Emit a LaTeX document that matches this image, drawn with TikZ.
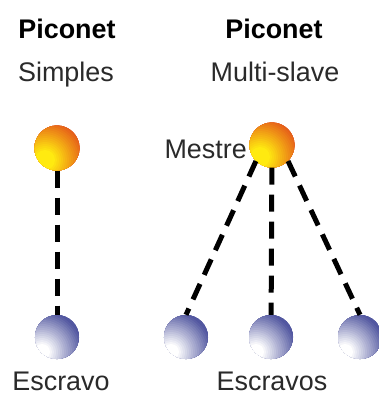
\documentclass[tikz,border=0pt]{standalone}
\usepackage{fontspec}
\setmainfont{Liberation Sans}
\usetikzlibrary{positioning}
\definecolor{NetText}{HTML}{2A2A2A}
\definecolor{MasterYellow}{HTML}{FFEA10}
\definecolor{MasterRed}{HTML}{E4561A}
\definecolor{SlaveBlue}{HTML}{5257A0}

\begin{document}
\begin{tikzpicture}[x=1bp, y=-1bp,
  ttl/.style={font=\fontsize{27}{32}\selectfont\bfseries, text=black, inner sep=0pt, anchor=base},
  sub/.style={font=\fontsize{27}{32}\selectfont, text=NetText, inner sep=0pt, anchor=base},
  master/.style={circle, minimum size=45bp, inner sep=0pt,
    path picture={
      \foreach \k in {0,...,22}{
        \pgfmathtruncatemacro\pct{max(0,min(100,(2*\k-6)*100/32))}
        \fill[MasterYellow!\pct!MasterRed] ([shift={(-12bp,-12bp)}]path picture bounding box.center) circle ({48bp-2bp*\k});
      }}},
  slave/.style={circle, minimum size=44bp, inner sep=0pt,
    path picture={
      \foreach \k in {0,...,22}{
        \pgfmathtruncatemacro\pct{max(0,min(100,(2*\k-6)*100/34))}
        \fill[white!\pct!SlaveBlue] ([shift={(-15bp,-15bp)}]path picture bounding box.center) circle ({48bp-2bp*\k});
      }}},
  link/.style={line width=5bp, dash pattern=on 17bp off 10bp, color=black}
]
\fill[white] (0,0) rectangle (379,403);
\useasboundingbox (0,0) rectangle (379,403);

% simple piconet
\node[ttl] (simpTitle) at (67,38) {Piconet};
\node[sub] (simpSub) at (66,81) {Simples};
\node[master] (simpMaster) at (57,148) {};
\node[slave] (simpSlave) at (57,337) {};
\node[sub] (simpLbl) at (61,390) {Escravo};

% multi-slave piconet
\node[ttl] (multiTitle) at (274,38) {Piconet};
\node[sub] (multiSub) at (275,81) {Multi-slave};
\node[master] (multiMaster) at (272,145) {};
\node[sub, anchor=base east] (mestreLbl) at (247,158) {Mestre};
\node[slave] (slaveA) at (186,337) {};
\node[slave] (slaveB) at (271,337) {};
\node[slave] (slaveC) at (360,337) {};
\node[sub] (multiLbl) at (272,390) {Escravos};

\draw[link] (simpMaster) -- (simpSlave);
\draw[link] (multiMaster.south west) -- (slaveA.north);
\draw[link] (multiMaster) -- (slaveB);
\draw[link] (multiMaster.south east) -- (slaveC.north);
\end{tikzpicture}
\end{document}
